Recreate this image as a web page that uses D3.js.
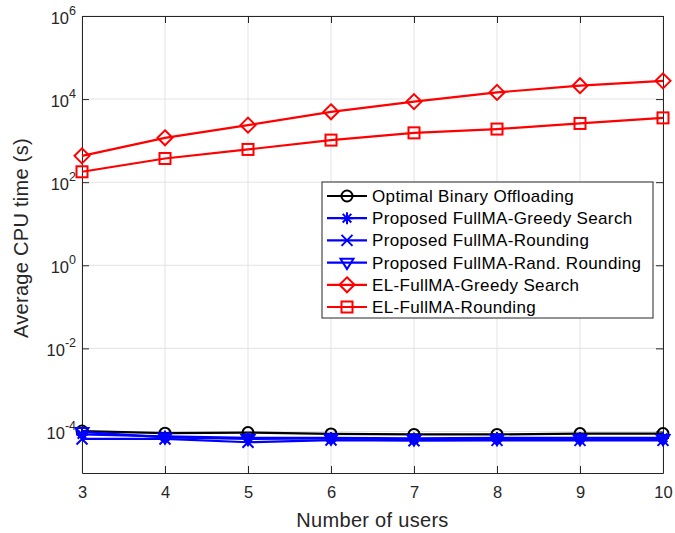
<!DOCTYPE html>
<html>
<head>
<meta charset="utf-8">
<script src="https://cdn.jsdelivr.net/npm/d3@7"></script>
<style>
  html, body { margin: 0; padding: 0; background: #fff; }
  svg { display: block; font-family: "Liberation Sans", Arial, sans-serif; }
</style>
</head>
<body>
<svg id="chart" width="675" height="533"></svg>
<script>
// Number of users on the x axis
const users = [3, 4, 5, 6, 7, 8, 9, 10];

// Average CPU time (s) for each scheme
const optimalBinary   = [1.02e-4, 0.91e-4, 0.94e-4, 0.87e-4, 0.85e-4, 0.85e-4, 0.89e-4, 0.89e-4];
const fullmaGreedy    = [0.85e-4, 0.76e-4, 0.70e-4, 0.70e-4, 0.68e-4, 0.70e-4, 0.70e-4, 0.70e-4];
const fullmaRounding  = [0.66e-4, 0.66e-4, 0.55e-4, 0.62e-4, 0.60e-4, 0.61e-4, 0.61e-4, 0.61e-4];
const fullmaRandRound = [0.98e-4, 0.72e-4, 0.66e-4, 0.68e-4, 0.65e-4, 0.66e-4, 0.66e-4, 0.66e-4];
const elGreedy        = [430, 1170, 2360, 4940, 8700, 14500, 21000, 27500];
const elRounding      = [178, 372, 614, 1030, 1540, 1900, 2590, 3530];

const seriesNames = [
  "Optimal Binary Offloading",
  "Proposed FullMA-Greedy Search",
  "Proposed FullMA-Rounding",
  "Proposed FullMA-Rand. Rounding",
  "EL-FullMA-Greedy Search",
  "EL-FullMA-Rounding"
];

const xTicks = [3, 4, 5, 6, 7, 8, 9, 10];
const yTickExponents = [-4, -2, 0, 2, 4, 6];
const yDomain = [1e-5, 1e6];

const series = [
  { name: seriesNames[0], values: optimalBinary,   color: "#000000", marker: "circle" },
  { name: seriesNames[1], values: fullmaGreedy,    color: "#0000ff", marker: "asterisk" },
  { name: seriesNames[2], values: fullmaRounding,  color: "#0000ff", marker: "cross" },
  { name: seriesNames[3], values: fullmaRandRound, color: "#0000ff", marker: "triangleDown" },
  { name: seriesNames[4], values: elGreedy,        color: "#ff0000", marker: "diamond" },
  { name: seriesNames[5], values: elRounding,      color: "#ff0000", marker: "square" }
];

const W = 675, H = 533;
const margin = { left: 82, right: 12, top: 16, bottom: 60 };
const svg = d3.select("#chart");
const axisColor = "#262626";

const x = d3.scaleLinear().domain([3, 10]).range([margin.left, W - margin.right]);
const y = d3.scaleLog().domain(yDomain).range([H - margin.bottom, margin.top]);

const x0 = x.range()[0], x1 = x.range()[1];
const yb = y.range()[0], yt = y.range()[1];

// grid
const grid = svg.append("g").attr("stroke", "#e3e3e3").attr("stroke-width", 1);
grid.selectAll(".gx").data(xTicks).join("line")
  .attr("x1", d => x(d)).attr("x2", d => x(d)).attr("y1", yb).attr("y2", yt);
grid.selectAll(".gy").data(yTickExponents).join("line")
  .attr("x1", x0).attr("x2", x1)
  .attr("y1", d => y(Math.pow(10, d))).attr("y2", d => y(Math.pow(10, d)));

// axes with inward ticks
const xAxisBottom = d3.axisBottom(x).tickValues(xTicks).tickSizeInner(-7).tickSizeOuter(0).tickPadding(13)
  .tickFormat(d3.format("d"));
const gxB = svg.append("g").attr("transform", `translate(0,${yb})`).call(xAxisBottom);
const gxT = svg.append("g").attr("transform", `translate(0,${yt})`)
  .call(d3.axisTop(x).tickValues(xTicks).tickSizeInner(-7).tickSizeOuter(0).tickFormat(""));

const yVals = yTickExponents.map(e => Math.pow(10, e));
const gyL = svg.append("g").attr("transform", `translate(${x0},0)`)
  .call(d3.axisLeft(y).tickValues(yVals).tickSizeInner(-7).tickSizeOuter(0).tickPadding(6).tickFormat(""));
const gyR = svg.append("g").attr("transform", `translate(${x1},0)`)
  .call(d3.axisRight(y).tickValues(yVals).tickSizeInner(-7).tickSizeOuter(0).tickFormat(""));

[gxB, gxT, gyL, gyR].forEach(g => {
  g.select(".domain").attr("stroke", axisColor).attr("stroke-width", 1);
  g.selectAll(".tick line").attr("stroke", axisColor).attr("stroke-width", 1);
});
gxB.selectAll(".tick text").attr("fill", "#262626").attr("font-size", 16.5);

// y tick labels as powers of ten
gyL.selectAll(".tick").each(function(d) {
  const e = Math.round(Math.log10(d));
  const t = d3.select(this).append("text")
    .attr("x", -6).attr("y", 7)
    .attr("text-anchor", "end")
    .attr("fill", "#262626")
    .attr("font-size", 16.5);
  t.append("tspan").text("10");
  t.append("tspan").attr("dy", -9).attr("font-size", 12.5).text(String(e));
});

// axis titles
svg.append("text")
  .attr("x", (x0 + x1) / 2).attr("y", 527)
  .attr("text-anchor", "middle").attr("font-size", 20).attr("letter-spacing", 0.3).attr("fill", "#262626")
  .text("Number of users");
svg.append("text")
  .attr("transform", `translate(28,238) rotate(-90)`)
  .attr("text-anchor", "middle").attr("font-size", 20).attr("letter-spacing", 0.3).attr("fill", "#262626")
  .text("Average CPU time (s)");

// marker drawing
function drawMarker(g, type, cx, cy, color) {
  const sw = 2;
  if (type === "circle") {
    g.append("circle").attr("cx", cx).attr("cy", cy).attr("r", 5.5)
      .attr("fill", "none").attr("stroke", color).attr("stroke-width", sw);
  } else if (type === "square") {
    g.append("rect").attr("x", cx - 5.5).attr("y", cy - 5.5).attr("width", 11).attr("height", 11)
      .attr("fill", "none").attr("stroke", color).attr("stroke-width", sw);
  } else if (type === "diamond") {
    const r = 7.5;
    g.append("path").attr("d", `M${cx},${cy - r}L${cx + r},${cy}L${cx},${cy + r}L${cx - r},${cy}Z`)
      .attr("fill", "none").attr("stroke", color).attr("stroke-width", sw);
  } else if (type === "triangleDown") {
    const r = 6.5;
    g.append("path").attr("d", `M${cx - r},${cy - r * 0.6}L${cx + r},${cy - r * 0.6}L${cx},${cy + r}Z`)
      .attr("fill", "none").attr("stroke", color).attr("stroke-width", sw);
  } else if (type === "cross") {
    const r = 5.5;
    g.append("path").attr("d", `M${cx - r},${cy - r}L${cx + r},${cy + r}M${cx - r},${cy + r}L${cx + r},${cy - r}`)
      .attr("stroke", color).attr("stroke-width", sw);
  } else if (type === "asterisk") {
    const r = 6, d = r * 0.72;
    g.append("path").attr("d",
      `M${cx},${cy - r}L${cx},${cy + r}M${cx - d},${cy - d}L${cx + d},${cy + d}M${cx - d},${cy + d}L${cx + d},${cy - d}M${cx - r},${cy}L${cx + r},${cy}`)
      .attr("stroke", color).attr("stroke-width", sw);
  }
}

// series lines and markers
const line = d3.line().x(d => x(d[0])).y(d => y(d[1]));
const plot = svg.append("g");
series.forEach(s => {
  const pts = users.map((u, i) => [u, s.values[i]]);
  const g = plot.append("g");
  g.append("path").attr("d", line(pts)).attr("fill", "none")
    .attr("stroke", s.color).attr("stroke-width", 2.2);
  pts.forEach(p => drawMarker(g, s.marker, x(p[0]), y(p[1]), s.color));
});

// legend
const lg = svg.append("g");
const lx = 322, ly = 182, lw = 331, lh = 136;
lg.append("rect").attr("x", lx).attr("y", ly).attr("width", lw).attr("height", lh)
  .attr("fill", "#fff").attr("stroke", axisColor).attr("stroke-width", 1);
series.forEach((s, i) => {
  const cy = ly + 14 + i * 22.2;
  const g = lg.append("g");
  g.append("line").attr("x1", lx + 5).attr("x2", lx + 45).attr("y1", cy).attr("y2", cy)
    .attr("stroke", s.color).attr("stroke-width", 2.2);
  drawMarker(g, s.marker, lx + 25, cy, s.color);
  g.append("text").attr("x", lx + 50).attr("y", cy + 6)
    .attr("font-size", 17).attr("letter-spacing", 0.35).attr("fill", "#000").text(s.name);
});
</script>
</body>
</html>
